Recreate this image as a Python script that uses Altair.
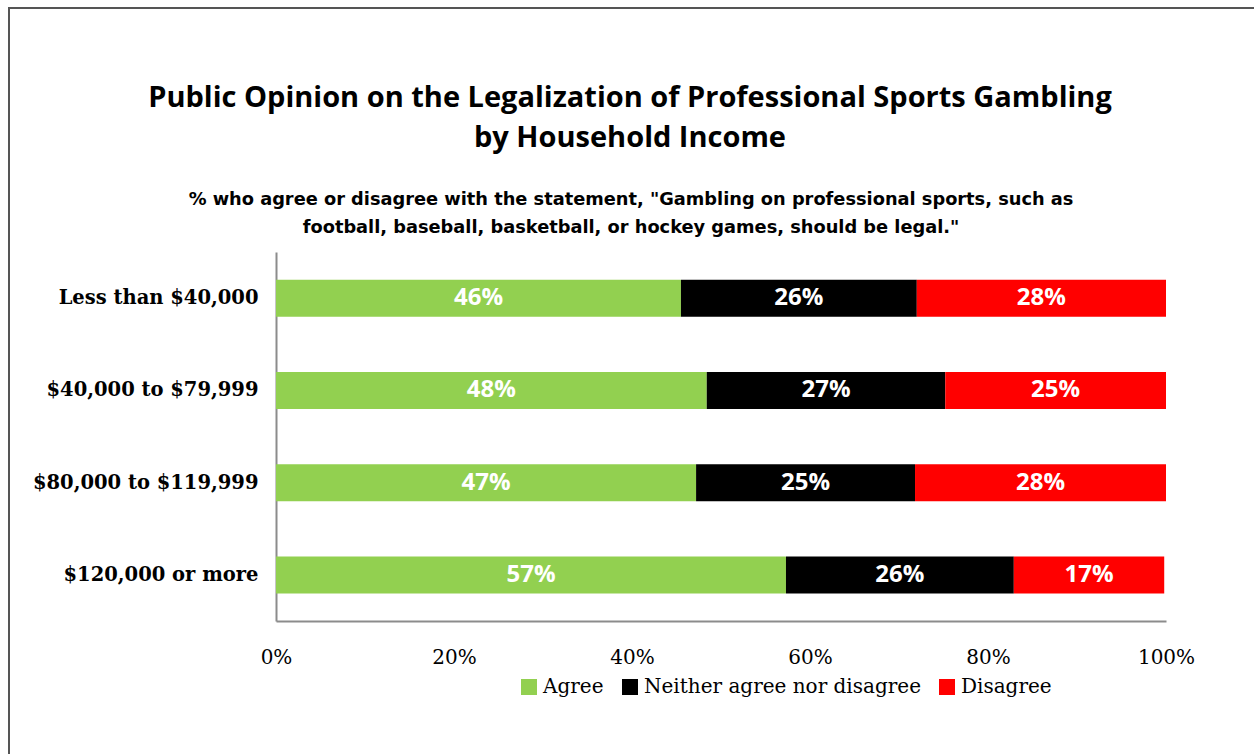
import altair as alt
import pandas as pd

categories = ["Less than $40,000", "$40,000 to $79,999", "$80,000 to $119,999", "$120,000 or more"]
responses = ["Agree", "Neither agree nor disagree", "Disagree"]
colors = ["#92D050", "#000000", "#FF0000"]

agree = [45.5, 48.4, 47.2, 57.3]
neither = [26.5, 26.8, 24.6, 25.6]
disagree = [28.0, 24.8, 28.2, 16.9]

agree_lbl = ["46%", "48%", "47%", "57%"]
neither_lbl = ["26%", "27%", "25%", "26%"]
disagree_lbl = ["28%", "25%", "28%", "17%"]

title_lines = ["Public Opinion on the Legalization of Professional Sports Gambling", "by Household Income"]
subtitle_lines = ['% who agree or disagree with the statement, "Gambling on professional sports, such as',
                  'football, baseball, basketball, or hockey games, should be legal."']

rows = []
for i, c in enumerate(categories):
    for j, (vals, lbls) in enumerate([(agree, agree_lbl), (neither, neither_lbl), (disagree, disagree_lbl)]):
        rows.append({"cat": c, "resp": responses[j], "ord": j, "val": vals[i], "lbl": lbls[i]})
df = pd.DataFrame(rows)

W, H = 890, 369
PL, PT = 276, 252

serif = "DejaVu Serif"
sans = "Open Sans"

base = alt.Chart(df)

bars = base.mark_bar(size=37).encode(
    y=alt.Y("cat:N", sort=categories, title=None,
            axis=alt.Axis(domain=True, domainColor="#8c8c8c", domainWidth=2, ticks=False,
                          labelFont=serif, labelFontWeight="bold", labelFontSize=19.5,
                          labelColor="#000000", labelPadding=18, labelLimit=0, grid=False)),
    x=alt.X("val:Q", stack="zero", scale=alt.Scale(domain=[0, 100]), title=None,
            axis=alt.Axis(values=[0, 20, 40, 60, 80, 100], labelExpr="datum.value + '%'",
                          domain=True, domainColor="#8c8c8c", domainWidth=2, ticks=False,
                          grid=False, labelFont=serif, labelFontSize=20, labelColor="#000000",
                          labelPadding=26, labelFlush=False)),
    color=alt.Color("resp:N", scale=alt.Scale(domain=responses, range=colors),
                    legend=alt.Legend(orient="none", legendX=243, legendY=425, direction="horizontal",
                                      title=None, symbolType="square", symbolSize=256,
                                      symbolStrokeWidth=0, labelFont=serif, labelFontSize=20,
                                      labelColor="#000000", columnPadding=16, labelOffset=4,
                                      labelLimit=0)),
    order=alt.Order("ord:Q"),
)

labels = base.transform_stack(
    stack="val", groupby=["cat"], as_=["v0", "v1"], sort=[alt.SortField("ord", order="ascending")]
).transform_calculate(mid="(datum.v0 + datum.v1) / 2").mark_text(
    font=sans, fontWeight="bold", fontSize=24, color="white", baseline="middle"
).encode(
    y=alt.Y("cat:N", sort=categories),
    x=alt.X("mid:Q"),
    text="lbl:N",
)

one = alt.Data(values=[{}])

title = alt.Chart(one).mark_text(
    font=sans, fontWeight="bold", fontSize=29, color="black", align="center",
    baseline="middle", lineHeight=40
).encode(
    x=alt.value(630 - PL),
    y=alt.value(98 - PT),
    text=alt.value(title_lines),
)

subtitle = alt.Chart(one).mark_text(
    font="DejaVu Sans", fontWeight="bold", fontSize=17.8, color="black", align="center",
    baseline="middle", lineHeight=28
).encode(
    x=alt.value(631 - PL),
    y=alt.value(200 - PT),
    text=alt.value(subtitle_lines),
)

frame_top = alt.Chart(one).mark_rule(color="#555555", strokeWidth=2).encode(
    x=alt.value(8 - PL), x2=alt.value(1260 - PL), y=alt.value(8 - PT)
)
frame_left = alt.Chart(one).mark_rule(color="#555555", strokeWidth=2).encode(
    x=alt.value(9 - PL), y=alt.value(8 - PT), y2=alt.value(760 - PT)
)

chart = alt.layer(bars, labels, title, subtitle, frame_top, frame_left).properties(
    width=W, height=H,
    autosize=alt.AutoSizeParams(type="none"),
    padding={"left": PL, "top": PT, "right": 1254 - PL - W, "bottom": 754 - PT - H},
    background="white",
).configure_view(stroke=None)

chart.save("out.html", embed_options={"renderer": "svg", "actions": False})
